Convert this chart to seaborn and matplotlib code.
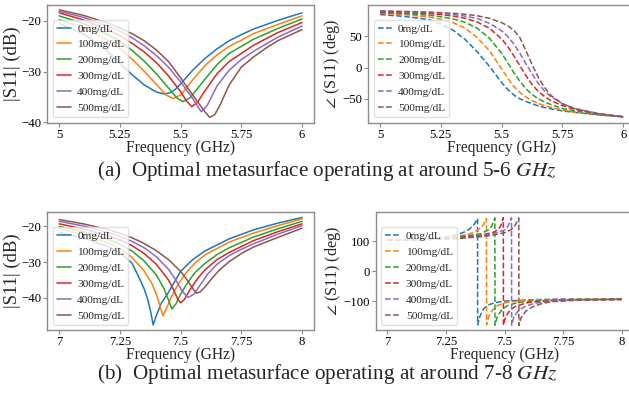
import numpy as np
import pandas as pd
import matplotlib
matplotlib.use("Agg")
import matplotlib.pyplot as plt
import seaborn as sns

# ---------------- data ----------------
conc_labels = ["0mg/dL", "100mg/dL", "200mg/dL", "300mg/dL", "400mg/dL", "500mg/dL"]
line_colors = ["#1f77b4", "#ff7f0e", "#2ca02c", "#d62728", "#9467bd", "#8c564b"]

# (a) |S11| 5-6 GHz
mag56_freq = [
    [5.0, 5.05, 5.1, 5.15, 5.2, 5.25, 5.3, 5.35, 5.4, 5.433, 5.46, 5.48, 5.5, 5.55, 5.6, 5.65, 5.7, 5.75, 5.8, 5.9, 6.0],
    [5.0, 5.1, 5.2, 5.25, 5.3, 5.35, 5.4, 5.44, 5.47, 5.5, 5.55, 5.6, 5.65, 5.7, 5.75, 5.8, 5.9, 6.0],
    [5.0, 5.1, 5.2, 5.25, 5.3, 5.35, 5.4, 5.45, 5.485, 5.51, 5.54, 5.6, 5.65, 5.7, 5.75, 5.8, 5.9, 6.0],
    [5.0, 5.1, 5.2, 5.25, 5.3, 5.35, 5.4, 5.45, 5.5, 5.525, 5.546, 5.57, 5.6, 5.65, 5.7, 5.75, 5.8, 5.9, 6.0],
    [5.0, 5.1, 5.2, 5.25, 5.3, 5.35, 5.4, 5.45, 5.5, 5.55, 5.585, 5.61, 5.65, 5.7, 5.75, 5.8, 5.9, 6.0],
    [5.0, 5.1, 5.2, 5.25, 5.3, 5.35, 5.4, 5.45, 5.5, 5.55, 5.6, 5.62, 5.64, 5.66, 5.7, 5.75, 5.8, 5.85, 5.9, 6.0],
]
mag56_db = [
    [-20.5, -21.5, -22.6, -24.1, -26.0, -28.3, -30.6, -32.6, -34.0, -34.4, -34.1, -33.4, -32.4, -29.7, -27.4, -25.5, -23.9, -22.7, -21.6, -19.9, -18.4],
    [-19.7, -21.4, -23.8, -25.4, -27.5, -29.9, -32.5, -34.6, -35.3, -34.6, -31.6, -28.8, -26.7, -25.0, -23.8, -22.5, -20.7, -19.0],
    [-19.0, -20.5, -22.7, -24.0, -25.8, -27.9, -30.4, -33.2, -35.2, -35.9, -35.1, -31.5, -28.6, -26.4, -25.0, -23.6, -21.5, -19.6],
    [-18.4, -19.8, -21.7, -22.9, -24.4, -26.1, -28.2, -30.8, -33.9, -35.8, -36.9, -36.0, -33.8, -30.4, -28.0, -26.4, -24.8, -22.3, -20.3],
    [-18.1, -19.3, -21.0, -22.0, -23.3, -24.9, -26.8, -29.1, -32.0, -35.3, -37.9, -36.6, -32.8, -29.7, -27.6, -26.0, -23.2, -21.0],
    [-17.8, -18.9, -20.4, -21.4, -22.5, -23.9, -25.7, -28.0, -31.2, -34.6, -37.9, -39.0, -38.5, -36.8, -32.6, -29.1, -27.1, -25.4, -23.9, -21.7],
]

# (a) phase 5-6 GHz (shared frequency grid)
ph56_grid = [5.0, 5.1, 5.2, 5.25, 5.3, 5.35, 5.4, 5.45, 5.5, 5.525, 5.55, 5.575, 5.6, 5.625, 5.65, 5.675, 5.7, 5.75, 5.8, 5.9, 6.0]
ph56_deg = [
    [85, 82, 77, 70, 60, 45, 25, 2, -24, -35, -44, -50, -54.5, -58, -61.5, -64, -66, -69.5, -72, -76, -79],
    [87, 85, 81, 77.5, 72, 63, 48, 27, -2, -17, -30, -40, -47.5, -53, -57.5, -61, -63.5, -68, -71.5, -76, -79],
    [88, 86.5, 84, 81.5, 78, 72.5, 63, 47, 23, 8, -8, -22, -34, -43, -50, -55, -59, -65.5, -69.5, -75, -79],
    [89, 88, 86.5, 85, 82.5, 79, 73, 63, 46, 34, 19, 3, -13, -27, -38, -46, -52.5, -61, -67, -74, -79],
    [90, 89, 88, 87, 85, 82.5, 78.5, 71, 59, 50, 38, 23, 6, -10, -25, -37, -46, -58, -65.5, -74, -79],
    [91, 90, 89, 88, 87, 85.5, 83, 79, 72, 67, 60, 48, 27, 5, -15, -31, -44, -58, -66, -74.5, -79],
]

# (b) |S11| 7-8 GHz
mag78_freq = [
    [7.0, 7.1, 7.2, 7.25, 7.3, 7.33, 7.35, 7.365, 7.377, 7.387, 7.40, 7.42, 7.45, 7.5, 7.55, 7.6, 7.7, 7.8, 7.9, 8.0],
    [7.0, 7.1, 7.2, 7.25, 7.3, 7.35, 7.38, 7.40, 7.415, 7.427, 7.44, 7.46, 7.49, 7.52, 7.56, 7.6, 7.7, 7.8, 7.9, 8.0],
    [7.0, 7.1, 7.2, 7.25, 7.3, 7.35, 7.4, 7.43, 7.45, 7.464, 7.48, 7.5, 7.53, 7.56, 7.6, 7.65, 7.7, 7.8, 7.9, 8.0],
    [7.0, 7.1, 7.2, 7.25, 7.3, 7.35, 7.4, 7.45, 7.47, 7.487, 7.5, 7.515, 7.54, 7.57, 7.6, 7.65, 7.7, 7.8, 7.9, 8.0],
    [7.0, 7.1, 7.2, 7.25, 7.3, 7.35, 7.4, 7.45, 7.48, 7.505, 7.53, 7.555, 7.58, 7.61, 7.65, 7.7, 7.75, 7.8, 7.9, 8.0],
    [7.0, 7.1, 7.2, 7.25, 7.3, 7.35, 7.4, 7.45, 7.5, 7.53, 7.55, 7.565, 7.58, 7.6, 7.63, 7.66, 7.7, 7.75, 7.8, 7.9, 8.0],
]
mag78_db = [
    [-21.7, -23.3, -25.6, -27.4, -30.3, -34.5, -37.5, -40.5, -44.0, -47.6, -45.0, -41.6, -38.5, -32.6, -29.3, -26.9, -23.5, -21.0, -19.1, -17.5],
    [-20.7, -22.3, -24.6, -26.2, -28.7, -32.5, -35.8, -39.0, -42.2, -45.0, -43.3, -40.0, -36.2, -33.2, -30.2, -28.0, -24.4, -21.9, -19.8, -17.9],
    [-20.0, -21.5, -23.6, -25.0, -26.9, -29.7, -33.6, -37.2, -40.6, -43.1, -41.8, -39.0, -35.6, -32.9, -30.4, -27.9, -26.0, -23.0, -20.7, -18.6],
    [-19.3, -20.7, -22.6, -23.8, -25.4, -27.6, -30.6, -35.0, -37.6, -40.2, -41.4, -40.5, -37.6, -34.6, -32.2, -29.3, -27.3, -24.0, -21.5, -19.3],
    [-18.6, -19.9, -21.7, -22.8, -24.2, -26.0, -28.5, -32.0, -35.0, -38.0, -39.9, -39.0, -36.5, -33.5, -30.6, -28.2, -26.4, -24.9, -22.2, -19.8],
    [-18.1, -19.3, -20.9, -21.9, -23.2, -24.8, -26.8, -29.3, -32.6, -35.3, -37.4, -38.7, -38.4, -37.0, -34.5, -32.2, -29.9, -27.6, -25.8, -23.1, -20.5],
]

# (b) phase 7-8 GHz (each curve wraps from +180 to -180 at resonance)
ph78_freq = [
    [7.0, 7.1, 7.2, 7.25, 7.3, 7.33, 7.35, 7.37, 7.385, 7.3855, 7.395, 7.41, 7.43, 7.46, 7.5, 7.6, 7.7, 7.8, 7.9, 8.0],
    [7.0, 7.1, 7.2, 7.3, 7.35, 7.38, 7.4, 7.41, 7.423, 7.4235, 7.433, 7.45, 7.47, 7.5, 7.55, 7.6, 7.7, 7.8, 8.0],
    [7.0, 7.1, 7.2, 7.3, 7.4, 7.43, 7.445, 7.459, 7.4595, 7.47, 7.49, 7.51, 7.55, 7.6, 7.7, 7.8, 8.0],
    [7.0, 7.1, 7.2, 7.3, 7.4, 7.45, 7.47, 7.485, 7.495, 7.4955, 7.505, 7.525, 7.55, 7.6, 7.7, 7.8, 8.0],
    [7.0, 7.1, 7.2, 7.3, 7.4, 7.45, 7.5, 7.515, 7.53, 7.5305, 7.54, 7.56, 7.59, 7.63, 7.7, 7.8, 8.0],
    [7.0, 7.1, 7.2, 7.3, 7.4, 7.45, 7.5, 7.53, 7.545, 7.561, 7.5615, 7.57, 7.59, 7.62, 7.66, 7.7, 7.8, 8.0],
]
ph78_deg = [
    [104, 106, 110, 114, 122, 131, 140, 155, 175, -178, -150, -125, -112, -104, -99, -95, -93, -92, -91.5, -91],
    [104, 105.5, 108.5, 116, 124, 134, 145, 155, 176, -178, -150, -127, -114, -105, -99, -96.5, -94, -93, -92],
    [104, 105, 107.5, 113, 125, 137, 150, 177, -179, -148, -127, -115, -105, -99.5, -95.5, -94, -92.5],
    [104, 105, 107, 111, 120, 129, 137, 152, 178, -179, -150, -128, -115, -104, -97, -95, -93],
    [104, 104.5, 106.5, 110, 117, 124, 137, 150, 178, -179, -152, -130, -116, -106, -99, -95.5, -93.5],
    [104, 104.5, 106, 109, 115, 120, 128, 139, 152, 177, -180, -155, -133, -118, -107, -101, -96.5, -94],
]

xticks_56 = [5.0, 5.25, 5.5, 5.75, 6.0]
xticklabels_56 = ["5", "5.25", "5.5", "5.75", "6"]
xticks_78 = [7.0, 7.25, 7.5, 7.75, 8.0]
xticklabels_78 = ["7", "7.25", "7.5", "7.75", "8"]
yticks_mag56 = [-40, -30, -20]
yticks_ph56 = [-50, 0, 50]
yticks_mag78 = [-40, -30, -20]
yticks_ph78 = [-100, 0, 100]

caption_a = r"(a)  Optimal metasurface operating at around 5-6 $GHz$"
caption_b = r"(b)  Optimal metasurface operating at around 7-8 $GHz$"

# ---------------- style ----------------
sns.set_theme(style="white")
plt.rcParams["font.family"] = ["Liberation Serif", "DejaVu Serif"]
plt.rcParams["mathtext.fontset"] = "stix"
plt.rcParams["axes.unicode_minus"] = True

W, H = 629, 393
fig = plt.figure(figsize=(W / 100, H / 100), dpi=100)


def add_ax(l, r, t, b):
    return fig.add_axes([l / W, 1 - b / H, (r - l) / W, (b - t) / H])


SPINE = "#8c8c8c"


def panel(ax, freqs, vals, dashed, xticks, xticklabels, yticks, ylim, ylabel, ylabelsize, ylabelpad):
    frames = []
    for lab, f, v in zip(conc_labels, freqs, vals):
        frames.append(pd.DataFrame({"f": f, "v": v, "conc": lab}))
    df = pd.concat(frames, ignore_index=True)
    sns.lineplot(data=df, x="f", y="v", hue="conc", hue_order=conc_labels,
                 palette=line_colors, ax=ax, estimator=None, sort=False,
                 legend=False, linewidth=1.1,
                 linestyle="--" if dashed else "-")
    ax.set_xlim(xticks[0] - 0.05, xticks[-1] + 0.05)
    ax.set_ylim(*ylim)
    ax.set_xticks(xticks)
    ax.set_xticklabels(xticklabels)
    ax.set_yticks(yticks)
    ax.tick_params(axis="both", which="major", length=3, width=0.8, color=SPINE,
                   labelsize=9.2, pad=1.2, bottom=True, left=True, labelcolor="black")
    for s in ax.spines.values():
        s.set_color(SPINE)
        s.set_linewidth(1.0)
    ax.set_xlabel("Frequency (GHz)", fontsize=11.2, labelpad=-0.5)
    ax.set_ylabel(ylabel, fontsize=ylabelsize, labelpad=ylabelpad)
    handles = ax.get_lines()[:6]
    ax.legend(handles, conc_labels, loc="lower left", fontsize=8.2,
              borderaxespad=0.5, labelspacing=0.52, handlelength=1.3,
              handletextpad=0.5, borderpad=0.35, framealpha=0.8, edgecolor="0.85")


ax1 = add_ax(47, 314.2, 4.7, 122.7)
panel(ax1, mag56_freq, mag56_db, False, xticks_56, xticklabels_56, yticks_mag56,
      (-40.05, -16.8), "|S11| (dB)", 13.5, 0)

ax2 = add_ax(367.9, 635.3, 4.7, 122.7)
panel(ax2, [ph56_grid] * 6, ph56_deg, True, xticks_56, xticklabels_56, yticks_ph56,
      (-88.5, 100.8), r"$\angle$ (S11) (deg)", 11.6, 0)

ax3 = add_ax(47, 314.2, 211.7, 330.3)
panel(ax3, mag78_freq, mag78_db, False, xticks_78, xticklabels_78, yticks_mag78,
      (-49.1, -15.9), "|S11| (dB)", 13.5, 0)

ax4 = add_ax(375.6, 633.4, 212, 330.3)
panel(ax4, ph78_freq, ph78_deg, True, xticks_78, xticklabels_78, yticks_ph78,
      (-196, 197), r"$\angle$ (S11) (deg)", 11.6, 0)

fig.text(327 / W, 1 - 176 / H, caption_a, ha="center", va="baseline", fontsize=15.2)
fig.text(327 / W, 1 - 379 / H, caption_b, ha="center", va="baseline", fontsize=15.2)

fig.savefig("out.png", dpi=100)
